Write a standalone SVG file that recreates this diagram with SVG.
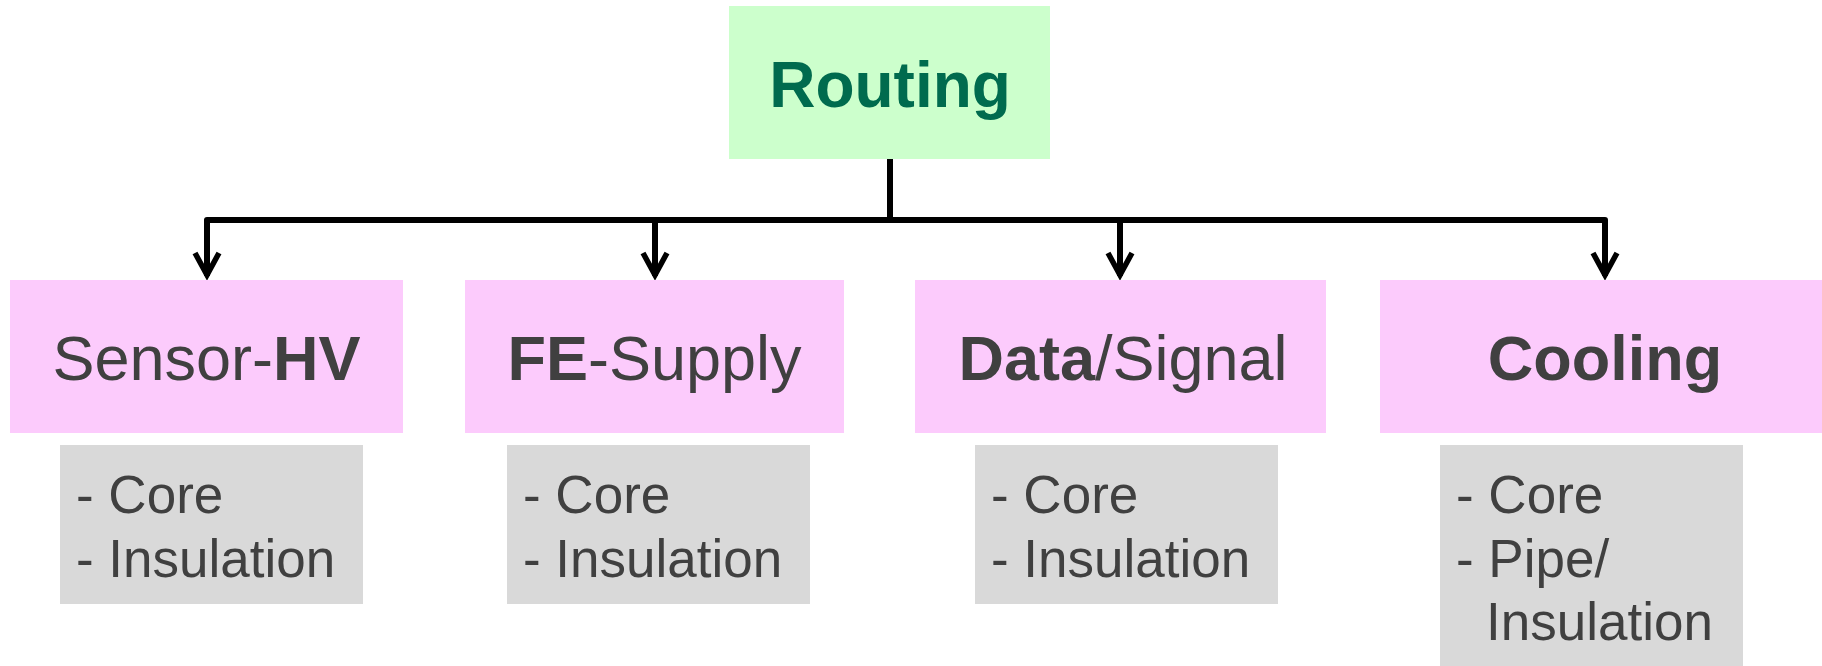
<svg xmlns="http://www.w3.org/2000/svg" width="1822" height="666" viewBox="0 0 1822 666">
<style>
.root{fill:#CCFFCC}
.cat{fill:#FCCBFC}
.sub{fill:#D9D9D9}
.rt{font-family:"Liberation Sans",Arial,sans-serif;font-size:64px;font-weight:bold;fill:#006B4E;text-anchor:middle}
.ct{font-family:"Liberation Sans",Arial,sans-serif;font-size:63px;fill:#404040;text-anchor:middle}
.st{font-family:"Liberation Sans",Arial,sans-serif;font-size:53px;fill:#404040}
.b{font-weight:bold}
.conn{fill:none;stroke:#000;stroke-width:6;stroke-linejoin:round}
</style>
<defs>
<marker id="arr" markerUnits="userSpaceOnUse" markerWidth="40" markerHeight="40" viewBox="-30 -20 40 40" refX="0" refY="0" orient="auto" overflow="visible">
<path d="M-23,-12 L-1,0 L-23,12" fill="none" stroke="#000" stroke-width="5.5" stroke-linejoin="miter"/>
</marker>
</defs>
<g id="connectors">
<path class="conn" d="M890,159 V220"/>
<path class="conn" d="M890,220 H207 V276" marker-end="url(#arr)"/>
<path class="conn" d="M890,220 H655 V276" marker-end="url(#arr)"/>
<path class="conn" d="M890,220 H1120 V276" marker-end="url(#arr)"/>
<path class="conn" d="M890,220 H1605 V276" marker-end="url(#arr)"/>
</g>
<g id="routing">
<rect class="root" x="729" y="6" width="321" height="153"/>
<text class="rt" x="890" y="107">Routing</text>
</g>
<g id="sensor-hv">
<rect class="cat" x="10" y="280" width="393" height="153"/>
<text class="ct" x="206.5" y="380">Sensor-<tspan class="b">HV</tspan></text>
</g>
<g id="fe-supply">
<rect class="cat" x="465" y="280" width="379" height="153"/>
<text class="ct" x="654.5" y="380"><tspan class="b">FE</tspan>-Supply</text>
</g>
<g id="data-signal">
<rect class="cat" x="915" y="280" width="411" height="153"/>
<text class="ct" x="1123" y="380"><tspan class="b">Data</tspan>/Signal</text>
</g>
<g id="cooling">
<rect class="cat" x="1380" y="280" width="442" height="153"/>
<text class="ct b" x="1605" y="380">Cooling</text>
</g>
<g id="sensor-hv-sub">
<rect class="sub" x="60" y="445" width="303" height="159"/>
<text class="st" x="76" y="513">- Core</text>
<text class="st" x="76" y="577">- Insulation</text>
</g>
<g id="fe-supply-sub">
<rect class="sub" x="507" y="445" width="303" height="159"/>
<text class="st" x="523" y="513">- Core</text>
<text class="st" x="523" y="577">- Insulation</text>
</g>
<g id="data-signal-sub">
<rect class="sub" x="975" y="445" width="303" height="159"/>
<text class="st" x="991" y="513">- Core</text>
<text class="st" x="991" y="577">- Insulation</text>
</g>
<g id="cooling-sub">
<rect class="sub" x="1440" y="445" width="303" height="221"/>
<text class="st" x="1456" y="513">- Core</text>
<text class="st" x="1456" y="577">- Pipe/</text>
<text class="st" x="1486" y="640">Insulation</text>
</g>
</svg>
